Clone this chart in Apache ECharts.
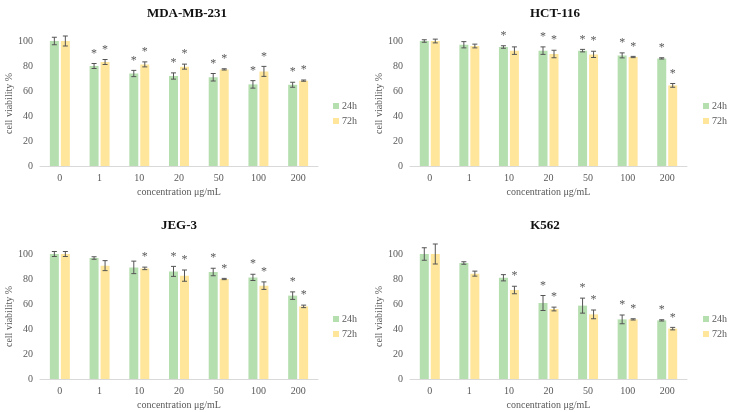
<!DOCTYPE html>
<html>
<head>
<meta charset="utf-8">
<title>cell viability</title>
<script src="https://cdn.jsdelivr.net/npm/echarts@6/dist/echarts.min.js"></script>
<style>
  html, body { margin: 0; padding: 0; background: #fff; }
  #main { width: 731px; height: 412px; }
</style>
</head>
<body>
<div id="main"></div>
<script>
// concentration groups
var categories = ['0', '1', '10', '20', '50', '100', '200'];

// MDA-MB-231
var mda24 = [100, 80, 74, 72, 71, 65.3, 65];
var mda24Err = [3, 2, 2.5, 2.5, 3, 3, 2];
var mda24Sig = [0, 1, 1, 1, 1, 1, 1];
var mda72 = [100, 83.2, 81.3, 79.5, 77.3, 75.7, 68.3];
var mda72Err = [4, 2, 2, 2, 0.5, 4, 0.5];
var mda72Sig = [0, 1, 1, 1, 1, 1, 1];

// HCT-116
var hct24 = [100, 97, 95.2, 92.3, 92.3, 88.5, 86.1];
var hct24Err = [1, 2.5, 1, 3, 1, 2, 0.5];
var hct24Sig = [0, 0, 1, 1, 1, 1, 1];
var hct72 = [100, 96, 92.3, 89.6, 89.3, 87.2, 64.5];
var hct72Err = [1.5, 1.5, 3, 3, 2.5, 0.5, 1.5];
var hct72Sig = [0, 0, 0, 1, 1, 1, 1];

// JEG-3
var jeg24 = [100, 96.8, 89.3, 86.1, 85.6, 81.3, 66.7];
var jeg24Err = [2, 1, 5, 4, 3, 2.5, 3];
var jeg24Sig = [0, 0, 0, 1, 1, 1, 1];
var jeg72 = [100, 90.7, 88.5, 82.7, 80, 74.7, 58.1];
var jeg72Err = [2, 4, 1, 4.5, 0.5, 3, 1];
var jeg72Sig = [0, 0, 1, 1, 1, 1, 1];

// K562
var k24 = [100, 92.8, 81, 60.8, 58.7, 47.7, 46.9];
var k24Err = [5, 1, 2.5, 6, 6, 3.5, 0.5];
var k24Sig = [0, 0, 0, 1, 1, 1, 1];
var k72 = [100, 84.3, 71.2, 56, 51.7, 47.7, 40.3];
var k72Err = [8, 2, 3, 1.5, 3.5, 0.5, 1];
var k72Sig = [0, 0, 1, 1, 1, 1, 1];

var FONT = '"Liberation Serif", "Times New Roman", serif';
var GREEN = '#b6dfb0';
var YELLOW = '#ffe69b';
var GRAY = '#595959';

var panels = [
  { title: 'MDA-MB-231', tx: 182, ty: 2, grid: { left: 40, top: 41, width: 278, height: 125 }, lx: 328, ly: 96,
    a: mda24, aErr: mda24Err, aSig: mda24Sig, b: mda72, bErr: mda72Err, bSig: mda72Sig },
  { title: 'HCT-116', tx: 550, ty: 2, grid: { left: 410, top: 41, width: 277, height: 125 }, lx: 698, ly: 96,
    a: hct24, aErr: hct24Err, aSig: hct24Sig, b: hct72, bErr: hct72Err, bSig: hct72Sig },
  { title: 'JEG-3', tx: 174, ty: 214, grid: { left: 40, top: 254, width: 278, height: 125 }, lx: 328, ly: 309,
    a: jeg24, aErr: jeg24Err, aSig: jeg24Sig, b: jeg72, bErr: jeg72Err, bSig: jeg72Sig },
  { title: 'K562', tx: 540, ty: 214, grid: { left: 410, top: 254, width: 277, height: 125 }, lx: 698, ly: 309,
    a: k24, aErr: k24Err, aSig: k24Sig, b: k72, bErr: k72Err, bSig: k72Sig }
];

// error bar + significance star, shifted onto its bar
function errRender(offset) {
  return function (params, api) {
    var i = api.value(0), v = api.value(1), e = api.value(2), s = api.value(3);
    var x = api.coord([i, v])[0] + offset;
    var top = api.coord([i, v + e])[1];
    var bot = api.coord([i, v - e])[1];
    var ls = { stroke: '#555', lineWidth: 1 };
    var kids = [
      { type: 'line', shape: { x1: x, y1: top, x2: x, y2: bot }, style: ls },
      { type: 'line', shape: { x1: x - 2.5, y1: top, x2: x + 2.5, y2: top }, style: ls },
      { type: 'line', shape: { x1: x - 2.5, y1: bot, x2: x + 2.5, y2: bot }, style: ls }
    ];
    if (s) {
      kids.push({ type: 'text', x: x, y: top - 4,
        style: { text: '*', fill: GRAY, font: '12px ' + FONT, align: 'center', verticalAlign: 'bottom' } });
    }
    return { type: 'group', children: kids };
  };
}

var titles = [], grids = [], xAxes = [], yAxes = [], legends = [], series = [];
panels.forEach(function (p, k) {
  titles.push({ text: p.title, left: p.tx, top: p.ty, textAlign: 'center',
    textStyle: { fontFamily: FONT, fontSize: 13, fontWeight: 'bold', color: '#111' } });
  grids.push(p.grid);
  xAxes.push({ type: 'category', gridIndex: k, data: categories,
    name: 'concentration μg/mL', nameLocation: 'middle', nameGap: 21,
    nameTextStyle: { fontFamily: FONT, fontSize: 10, color: GRAY },
    axisLine: { lineStyle: { color: '#d9d9d9' } }, axisTick: { show: false },
    axisLabel: { fontFamily: FONT, fontSize: 10, color: GRAY, margin: 7 } });
  yAxes.push({ type: 'value', gridIndex: k, min: 0, max: 100, interval: 20,
    name: 'cell viability %', nameLocation: 'middle', nameGap: 22,
    nameTextStyle: { fontFamily: FONT, fontSize: 10, color: GRAY },
    axisLine: { show: false }, axisTick: { show: false }, splitLine: { show: false },
    axisLabel: { fontFamily: FONT, fontSize: 10, color: GRAY, margin: 7 } });
  legends.push({ data: ['24h', '72h'], orient: 'vertical', left: p.lx, top: p.ly,
    icon: 'rect', itemWidth: 6, itemHeight: 6, itemGap: 5,
    textStyle: { fontFamily: FONT, fontSize: 10, color: GRAY, padding: [0, 0, 0, -2] } });
  series.push({ name: '24h', type: 'bar', xAxisIndex: k, yAxisIndex: k, data: p.a,
    barWidth: 9, barGap: '22%', itemStyle: { color: GREEN }, silent: true });
  series.push({ name: '72h', type: 'bar', xAxisIndex: k, yAxisIndex: k, data: p.b,
    barWidth: 9, barGap: '22%', itemStyle: { color: YELLOW }, silent: true });
  series.push({ name: 'err24_' + k, type: 'custom', xAxisIndex: k, yAxisIndex: k, silent: true, z: 5,
    renderItem: errRender(-5.5), clip: false,
    data: p.a.map(function (v, i) { return [i, v, p.aErr[i], p.aSig[i]]; }) });
  series.push({ name: 'err72_' + k, type: 'custom', xAxisIndex: k, yAxisIndex: k, silent: true, z: 5,
    renderItem: errRender(5.5), clip: false,
    data: p.b.map(function (v, i) { return [i, v, p.bErr[i], p.bSig[i]]; }) });
});

var myChart = echarts.init(document.getElementById('main'));
myChart.setOption({
  backgroundColor: '#fff',
  animation: false,
  title: titles,
  grid: grids,
  xAxis: xAxes,
  yAxis: yAxes,
  legend: legends,
  series: series
});
</script>
</body>
</html>
